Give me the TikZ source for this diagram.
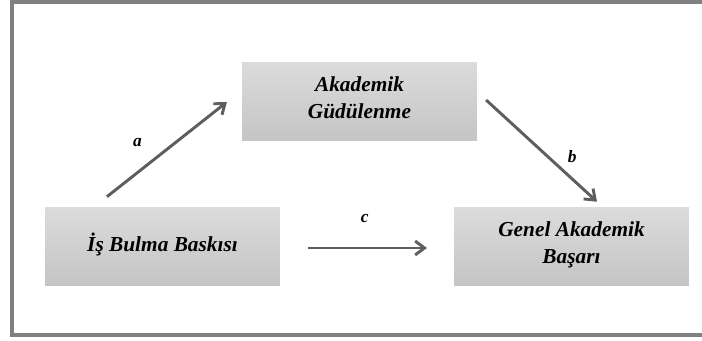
\documentclass[tikz,border=0pt]{standalone}
\usepackage{fontspec}
\setmainfont{Liberation Serif}
\usetikzlibrary{arrows.meta,calc}

\begin{document}
\begin{tikzpicture}[x=0.75pt,y=-0.75pt,
    varbox/.style={minimum width=176pt, minimum height=58.5pt, inner sep=0pt,
        text depth=7pt, top color=gray!28, bottom color=gray!46, align=center,
        font=\fontsize{16}{20}\selectfont\bfseries\itshape},
    path/.style={draw=black!63, line width=2.2pt, -{Straight Barb[length=7pt,width=10.5pt]}},
    lbl/.style={font=\fontsize{13}{13}\selectfont\bfseries\itshape}]
    \useasboundingbox (0,0) rectangle (702,341);

    % Frame
    \draw[black!50, line width=3.4pt] (12,2) rectangle (720,335);

    % Variables
    \node[varbox] (akad) at (359.5,102) {Akademik\\Güdülenme};
    \node[varbox] (is) at (162.5,247) {İş Bulma Baskısı};
    \node[varbox] (basari) at (571.5,247) {Genel Akademik\\Başarı};

    % Path ends
    \coordinate (a1) at ($(is.north west)+(62,-11)$);
    \coordinate (a2) at ($(akad.west)+(-15,0)$);
    \coordinate (b1) at ($(akad.east)+(9,-2)$);
    \coordinate (b2) at ($(basari.north)+(25.5,-6)$);
    \coordinate (c1) at ($(is.east)+(28,1)$);
    \coordinate (c2) at ($(basari.west)+(-27,1)$);

    % Paths
    \draw[path] (a1) -- node[lbl, xshift=-22pt, yshift=5pt] {a} (a2);
    \draw[path] (b1) -- node[lbl, xshift=23pt, yshift=-4pt] {b} (b2);
    \draw[path] (c1) -- node[lbl, xshift=-2pt, yshift=22pt] {c} (c2);
\end{tikzpicture}
\end{document}
